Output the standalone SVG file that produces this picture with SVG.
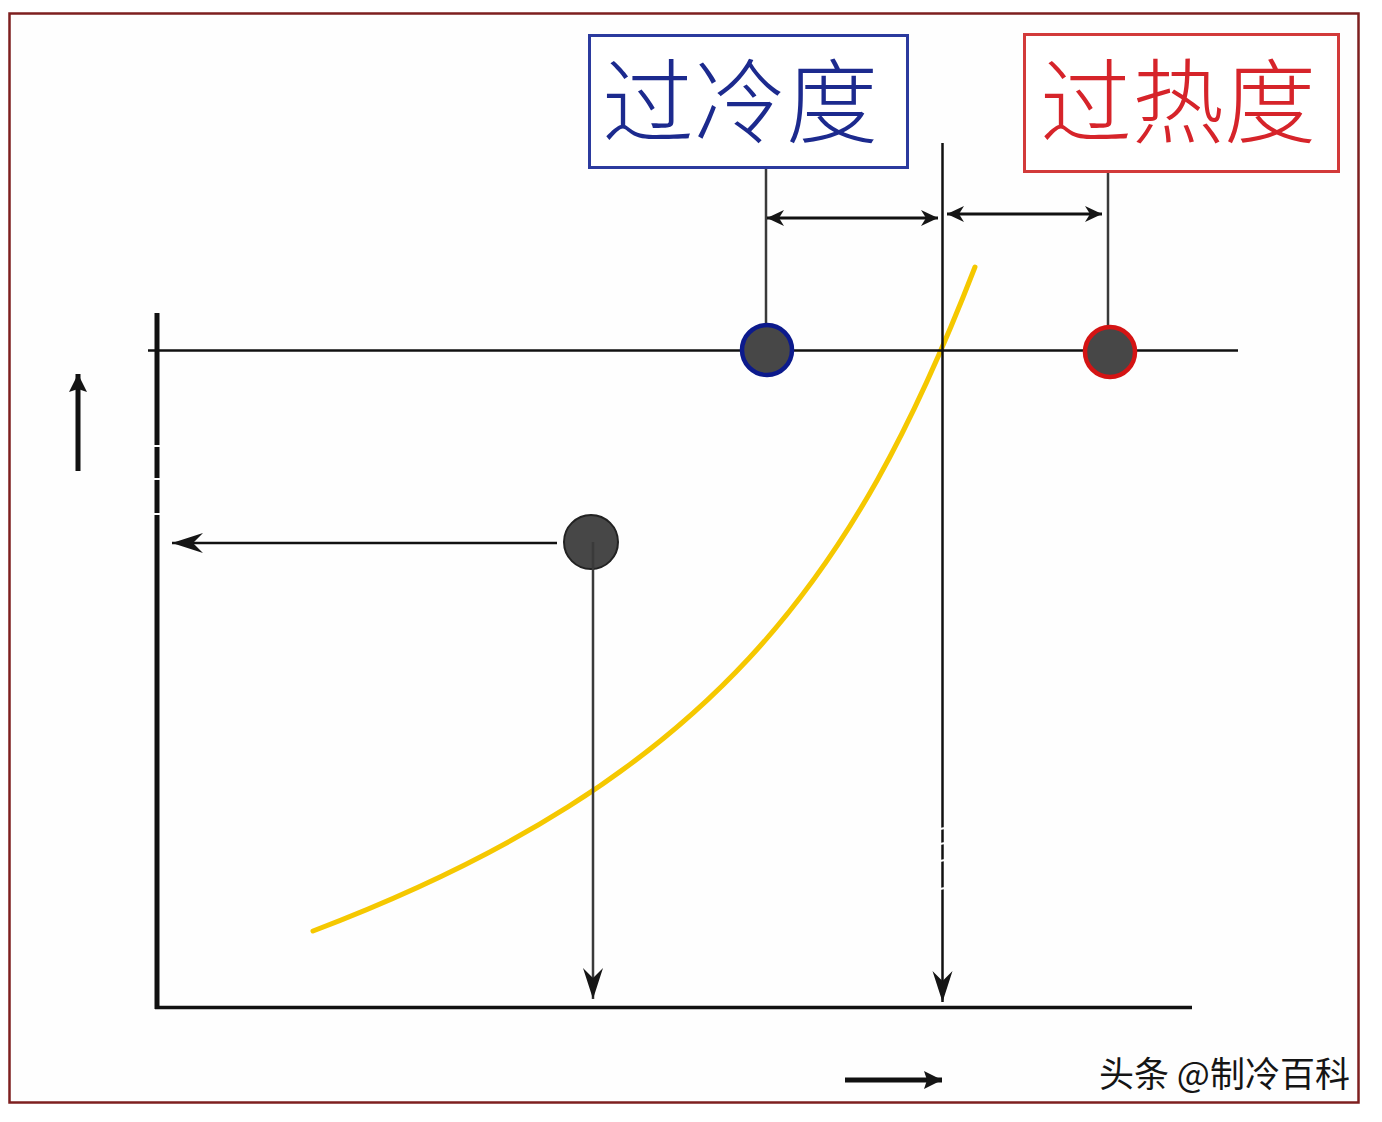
<svg xmlns="http://www.w3.org/2000/svg" width="1382" height="1122" viewBox="0 0 1382 1122">
  <style>
    .ln { stroke: #111; fill: none; }
    .gray { stroke: #3a3a3a; fill: none; }
    .dot { fill: #474747; }
    .label { font-family: "Noto Sans CJK SC", "Noto Sans", sans-serif; font-size: 92px; font-weight: 300; text-anchor: middle; }
    .wm { font-family: "Noto Sans CJK SC", "Noto Sans", sans-serif; font-size: 35px; fill: #151515; stroke: #ffffff; stroke-width: 1; paint-order: stroke; }
    .gap { stroke: #ffffff; stroke-width: 2; }
  </style>
  <defs>
    <marker id="ah" markerUnits="userSpaceOnUse" markerWidth="20" markerHeight="20" viewBox="-18 -10 20 20" refX="0" refY="0" orient="auto-start-reverse">
      <path d="M0,0 L-17,-8 L-12,0 L-17,8 Z" fill="#151515"/>
    </marker>
    <marker id="ahl" markerUnits="userSpaceOnUse" markerWidth="34" markerHeight="24" viewBox="-32 -12 34 24" refX="0" refY="0" orient="auto">
      <path d="M0,0 L-31,-10 L-21,0 L-31,10 Z" fill="#151515"/>
    </marker>
    <marker id="ahs" markerUnits="userSpaceOnUse" markerWidth="24" markerHeight="24" viewBox="-20 -12 24 24" refX="0" refY="0" orient="auto">
      <path d="M0,0 L-18,-9 L-15,0 L-18,9 Z" fill="#151515"/>
    </marker>
  </defs>

  <rect x="0" y="0" width="1382" height="1122" fill="#ffffff"/>
  <rect id="frame" x="9.5" y="13.5" width="1349" height="1089" fill="#fefefe" stroke="#7e1f1f" stroke-width="2.5"/>

  <!-- yellow saturation curve -->
  <path id="curve" d="M313,931 C713,779 855,577 975,267" fill="none" stroke="#f5c800" stroke-width="5" stroke-linecap="round"/>

  <g id="axes">
    <line class="ln" x1="157" y1="313" x2="157" y2="1009" stroke-width="5"/>
    <line class="ln" x1="155" y1="1007.5" x2="1192" y2="1007.5" stroke-width="3.5"/>
    <line class="gap" x1="154" y1="446" x2="160" y2="446"/>
    <line class="gap" x1="154" y1="479" x2="160" y2="479"/>
    <line class="gap" x1="154" y1="514" x2="160" y2="514"/>
  </g>

  <g id="connectors">
    <!-- pressure line -->
    <line class="ln" x1="148" y1="350.5" x2="1238" y2="350.5" stroke-width="2.5"/>
    <!-- saturation temperature line -->
    <line class="ln" x1="942.5" y1="143" x2="942.5" y2="1002" stroke-width="2.5" marker-end="url(#ahl)"/>
    <line class="gap" x1="940" y1="829" x2="945" y2="828"/>
    <line class="gap" x1="940" y1="844" x2="945" y2="843"/>
    <line class="gap" x1="940" y1="861" x2="945" y2="860"/>
    <line class="gap" x1="940" y1="889" x2="945" y2="888"/>
    <!-- leaders -->
    <line class="gray" x1="766" y1="168" x2="766" y2="346" stroke-width="2.5"/>
    <line class="gray" x1="1108" y1="172" x2="1108" y2="346" stroke-width="2.5"/>
    <!-- double arrows -->
    <line class="ln" x1="767" y1="218" x2="938" y2="218" stroke-width="3" stroke="#222" marker-start="url(#ah)" marker-end="url(#ah)"/>
    <line class="ln" x1="947" y1="214" x2="1102" y2="214" stroke-width="3" stroke="#222" marker-start="url(#ah)" marker-end="url(#ah)"/>
    <!-- gray point projections -->
    <line class="ln" x1="557" y1="543" x2="172" y2="543" stroke-width="2.5" marker-end="url(#ahl)"/>
    <line class="gray" x1="593" y1="545" x2="593" y2="999" stroke-width="2.5" marker-end="url(#ahl)"/>
    <!-- axis direction arrows -->
    <line class="ln" x1="78" y1="471" x2="78" y2="374" stroke-width="5" marker-end="url(#ahs)"/>
    <line class="ln" x1="845" y1="1080" x2="942" y2="1080" stroke-width="5" marker-end="url(#ahs)"/>
  </g>

  <g id="node-subcool-label">
    <rect x="589.5" y="35.5" width="318" height="132" fill="#ffffff" stroke="#2b3a9e" stroke-width="3"/>
    <text class="label" x="740" y="136" fill="#1c2a8e">过冷度</text>
  </g>

  <g id="node-superheat-label">
    <rect x="1024.5" y="34.5" width="314" height="137" fill="#ffffff" stroke="#d23a3a" stroke-width="3"/>
    <text class="label" x="1178" y="136" fill="#d6242a">过热度</text>
  </g>

  <g id="node-subcool-point">
    <circle cx="767" cy="350" r="25" class="dot" stroke="#0c1a8c" stroke-width="4.5"/>
  </g>

  <g id="node-superheat-point">
    <circle cx="1110" cy="352" r="25" class="dot" stroke="#d41414" stroke-width="4.5"/>
  </g>

  <g id="node-state-point">
    <circle cx="591" cy="542" r="27" class="dot" stroke="#222" stroke-width="2"/>
    <line class="gray" x1="593" y1="542" x2="593" y2="570" stroke-width="2.5"/>
  </g>

  <text class="wm" x="1099" y="1087">头条 @制冷百科</text>
</svg>
